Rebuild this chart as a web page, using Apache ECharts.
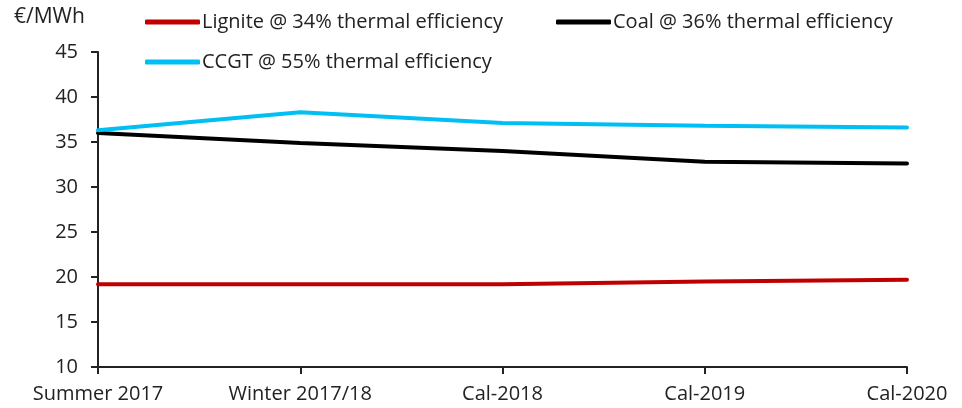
<!DOCTYPE html>
<html>
<head>
<meta charset="utf-8">
<script src="https://cdn.jsdelivr.net/npm/echarts@6/dist/echarts.min.js"></script>
<style>
  html, body { margin: 0; padding: 0; background: #fff; }
  #chartLineBox { width: 962px; height: 408px; }
</style>
</head>
<body>
<div id="chartLineBox"></div>
<script>
// categories and values
var categories = ["Summer 2017", "Winter 2017/18", "Cal-2018", "Cal-2019", "Cal-2020"];
var lignite = [19.2, 19.2, 19.2, 19.5, 19.7];
var coal = [36.0, 34.9, 34.0, 32.8, 32.6];
var ccgt = [36.3, 38.3, 37.1, 36.8, 36.6];
var yTicks = [10, 15, 20, 25, 30, 35, 40, 45];

var names = [
  "Lignite @ 34% thermal efficiency",
  "Coal @ 36% thermal efficiency",
  "CCGT @ 55% thermal efficiency"
];
var colors = ["#C00000", "#000000", "#00BFF3"];
var fontFamily = "'Open Sans', 'Noto Sans', sans-serif";
var textColor = "#222";

var chartLine = echarts.init(document.getElementById("chartLineBox"));

function legendAt(name, left, top) {
  return {
    data: [name],
    left: left,
    top: top,
    icon: "roundRect",
    itemWidth: 55,
    itemHeight: 5,
    itemGap: 0,
    padding: 0,
    textStyle: { fontFamily: fontFamily, fontSize: 20, color: textColor, padding: [0, 0, 0, -3] }
  };
}

var option = {
  animation: false,
  color: colors,
  title: {
    text: "€/MWh",
    left: 14,
    top: 7,
    padding: 0,
    textStyle: { fontFamily: fontFamily, fontSize: 21, fontWeight: "normal", color: textColor }
  },
  legend: [
    legendAt(names[0], 145, 12),
    legendAt(names[1], 556, 12),
    legendAt(names[2], 145, 52)
  ],
  grid: { left: 98, right: 55, top: 52, bottom: 41, containLabel: false },
  xAxis: {
    type: "category",
    boundaryGap: false, // 坐标轴两边不留白
    data: categories,
    axisLine: { lineStyle: { color: "#222", width: 2 } },
    axisTick: { show: true, length: 7, alignWithLabel: true, lineStyle: { color: "#222", width: 2 } },
    axisLabel: { fontFamily: fontFamily, fontSize: 20, color: textColor, margin: 17, interval: 0 }
  },
  yAxis: {
    type: "value",
    min: yTicks[0],
    max: yTicks[yTicks.length - 1],
    interval: 5,
    splitLine: { show: false },
    axisLine: { show: true, lineStyle: { color: "#222", width: 2 } },
    axisTick: { show: true, length: 7, lineStyle: { color: "#222", width: 2 } },
    axisLabel: { fontFamily: fontFamily, fontSize: 20, color: textColor, margin: 20 }
  },
  series: [
    { name: names[0], type: "line", data: lignite, showSymbol: false, lineStyle: { width: 4, color: colors[0], cap: "round" } },
    { name: names[1], type: "line", data: coal, showSymbol: false, lineStyle: { width: 4, color: colors[1], cap: "round" } },
    { name: names[2], type: "line", data: ccgt, showSymbol: false, lineStyle: { width: 4, color: colors[2], cap: "round" } }
  ]
};

chartLine.setOption(option);
</script>
</body>
</html>
